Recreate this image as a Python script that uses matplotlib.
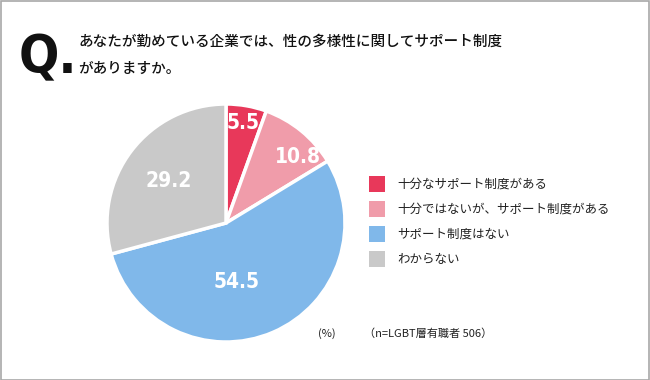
import numpy as np
import matplotlib
matplotlib.use("Agg")
import matplotlib.pyplot as plt
from matplotlib.patches import Rectangle

plt.rcParams['font.family'] = ['Noto Sans CJK JP', 'DejaVu Sans']

# data
categories = ["十分なサポート制度がある", "十分ではないが、サポート制度がある",
              "サポート制度はない", "わからない"]
values = [5.5, 10.8, 54.5, 29.2]
colors = ["#E8385A", "#F09CAA", "#80B8EA", "#C9C9C9"]

question = ["あなたが勤めている企業では、性の多様性に関してサポート制度",
            "がありますか。"]
note_unit = "(%)"
note_n = "（n=LGBT層有職者 506）"

# label placement inside the wedges (fraction of radius, angular nudge in deg)
label_radius = [0.85, 0.82, 0.50, 0.60]
label_nudge = [0, -8, -13, 1]

W, H = 650, 380
fig = plt.figure(figsize=(W / 100, H / 100), dpi=100)
fig.patch.set_facecolor("white")

# frame around the card
fig.add_artist(Rectangle((0.5 / W, 0.5 / H), 1 - 1.5 / W, 1 - 1.5 / H,
                         transform=fig.transFigure, fill=False,
                         edgecolor="#A8A8A8", linewidth=1.2))

# title
fig.text(19 / W, 1 - 73 / H, "Q.", fontsize=38, fontweight="bold",
         family="DejaVu Sans", fontstretch="condensed", color="#111111",
         ha="left", va="baseline")
for i, line in enumerate(question):
    fig.text(78 / W, 1 - (42 + 27 * i) / H, line, fontsize=10.5,
             fontweight="medium", color="#111111", ha="left", va="center")

# pie
cx, cy, r = 226, 223, 119
ax = fig.add_axes([(cx - r) / W, (H - cy - r) / H, 2 * r / W, 2 * r / H])
wedges, _ = ax.pie(values, colors=colors, startangle=90, counterclock=False,
                   wedgeprops=dict(edgecolor="white", linewidth=2.5))
for w in wedges:
    w.set_clip_on(False)
ax.set_xlim(-1, 1)
ax.set_ylim(-1, 1)
ax.axis("off")

for w, v, lr, nd in zip(wedges, values, label_radius, label_nudge):
    mid = np.deg2rad((w.theta1 + w.theta2) / 2 + nd)
    ax.text(lr * np.cos(mid), lr * np.sin(mid), f"{v:.1f}", color="white",
            fontsize=15, fontweight="bold", family="DejaVu Sans",
            fontstretch="condensed", ha="center", va="center")

# legend
for i, (lab, col) in enumerate(zip(categories, colors)):
    yc = 184 + 25 * i
    fig.add_artist(Rectangle((369 / W, 1 - (yc + 8) / H), 16 / W, 16 / H,
                             transform=fig.transFigure, facecolor=col,
                             edgecolor="none"))
    fig.text(397 / W, 1 - yc / H, lab, fontsize=9, color="#222222",
             ha="left", va="center")

fig.text(318 / W, 1 - 334 / H, note_unit, fontsize=8, color="#222222",
         ha="left", va="center")
fig.text(364 / W, 1 - 334 / H, note_n, fontsize=8, color="#222222",
         ha="left", va="center")

fig.savefig("out.png", dpi=100)
